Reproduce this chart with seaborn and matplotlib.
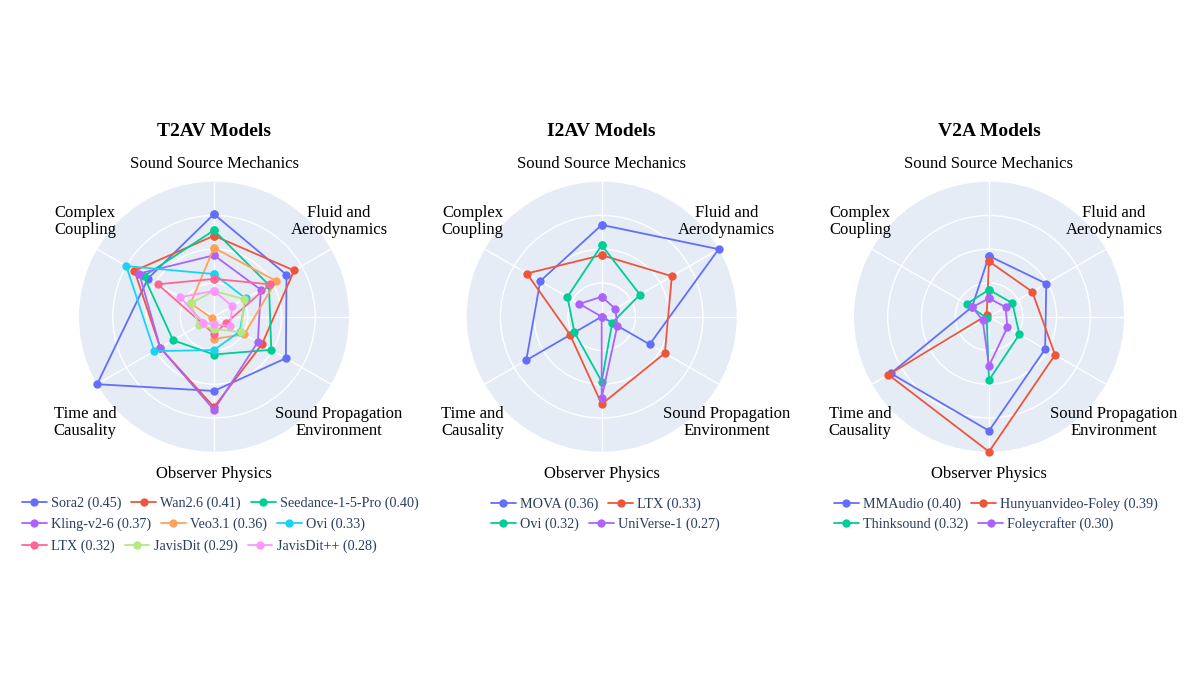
import numpy as np
import pandas as pd
import matplotlib
matplotlib.use('Agg')
import matplotlib.pyplot as plt
from matplotlib.lines import Line2D
import seaborn as sns

# ejes del radar (en sentido horario desde arriba)
dims = ['Sound Source Mechanics', 'Fluid and\nAerodynamics', 'Sound Propagation\nEnvironment',
        'Observer Physics', 'Time and\nCausality', 'Complex\nCoupling']

# valores, escala relativa al radio maximo de cada panel
t2av_models = ['Sora2', 'Wan2.6', 'Seedance-1-5-Pro', 'Kling-v2-6', 'Veo3.1', 'Ovi', 'LTX', 'JavisDit', 'JavisDit++']
t2av_scores = [0.45, 0.41, 0.40, 0.37, 0.36, 0.33, 0.32, 0.29, 0.28]
t2av_values = [
    [0.76, 0.62, 0.615, 0.55, 1.00, 0.565],
    [0.60, 0.685, 0.41, 0.67, 0.46, 0.68],
    [0.64, 0.47, 0.49, 0.28, 0.35, 0.60],
    [0.455, 0.40, 0.375, 0.69, 0.46, 0.64],
    [0.51, 0.53, 0.26, 0.165, 0.02, 0.20],
    [0.316, 0.27, 0.22, 0.247, 0.51, 0.75],
    [0.28, 0.48, 0.10, 0.128, 0.10, 0.48],
    [0.19, 0.26, 0.23, 0.09, 0.128, 0.20],
    [0.19, 0.157, 0.137, 0.057, 0.09, 0.29],
]

i2av_models = ['MOVA', 'LTX', 'Ovi', 'UniVerse-1']
i2av_scores = [0.36, 0.33, 0.32, 0.27]
i2av_values = [
    [0.68, 1.00, 0.41, 0.0, 0.645, 0.526],
    [0.456, 0.60, 0.54, 0.648, 0.27, 0.64],
    [0.53, 0.327, 0.09, 0.48, 0.233, 0.293],
    [0.148, 0.117, 0.134, 0.60, 0.0, 0.19],
]

v2a_models = ['MMAudio', 'Hunyuanvideo-Foley', 'Thinksound', 'Foleycrafter']
v2a_scores = [0.40, 0.39, 0.32, 0.30]
v2a_values = [
    [0.45, 0.49, 0.48, 0.845, 0.84, 0.145],
    [0.41, 0.37, 0.565, 1.00, 0.86, 0.02],
    [0.20, 0.20, 0.26, 0.47, 0.02, 0.19],
    [0.136, 0.142, 0.157, 0.365, 0.054, 0.142],
]

colores = ['#636EFA', '#EF553B', '#00CC96', '#AB63FA', '#FFA15A', '#19D3F3', '#FF6692', '#B6E880', '#FF97FF']

sns.set_theme(style='white')
plt.rcParams['font.family'] = ['Liberation Serif', 'DejaVu Serif']

W, H = 1200, 675
fig = plt.figure(figsize=(12, 6.75), dpi=100)
fig.patch.set_facecolor('white')

angulos = np.deg2rad(np.arange(0, 360, 60))


def radar(cx, cy, titulo, modelos, valores):
    R = 135
    ax = fig.add_axes([(cx - R) / W, 1 - (cy + R) / H, 2 * R / W, 2 * R / H], projection='polar')
    ax.set_theta_offset(np.pi / 2)
    ax.set_theta_direction(-1)
    ax.set_facecolor('#E5ECF6')

    filas = []
    for m, vals in zip(modelos, valores):
        for a, v in zip(list(angulos) + [2 * np.pi], vals + [vals[0]]):
            filas.append({'modelo': m, 'theta': a, 'r': v})
    df = pd.DataFrame(filas)
    sns.lineplot(data=df, x='theta', y='r', hue='modelo', hue_order=modelos,
                 palette=colores[:len(modelos)], sort=False, estimator=None,
                 marker='o', markersize=6, markeredgewidth=0, linewidth=1.3,
                 clip_on=False, legend=False, ax=ax)

    ax.set_ylim(0, 1)
    ax.set_yticks([0.25, 0.5, 0.75])
    ax.set_yticklabels([])
    ax.set_xticks(list(angulos) + [np.pi / 2])
    ax.set_xticklabels([])
    ax.grid(True, color='white', linewidth=1.0)
    ax.spines['polar'].set_visible(False)
    ax.set_xlabel('')
    ax.set_ylabel('')

    # etiquetas de los ejes, desplazamientos en pixeles desde el centro
    offs = [(0, -153), (125, -95), (125, 106), (0, 157), (-129, 106), (-129, -95)]
    for txt, (dx, dy) in zip(dims, offs):
        ax.text(0.5 + dx / (2 * R), 0.5 - dy / (2 * R), txt, transform=ax.transAxes,
                ha='center', va='center', multialignment='center', fontsize=12,
                color='black', linespacing=1.1)
    ax.text(0.5, 0.5 + 185 / (2 * R), titulo, transform=ax.transAxes, ha='center',
            va='center', fontsize=14, fontweight='bold', color='black')
    return ax


radar(214, 316.7, 'T2AV Models', t2av_models, t2av_values)
radar(601.7, 316.7, 'I2AV Models', i2av_models, i2av_values)
radar(989, 316.7, 'V2A Models', v2a_models, v2a_values)


def fila_leyenda(nombres, puntajes, cols, x_px, y_px):
    handles = [Line2D([0], [0], color=c, lw=1.3, marker='o', markersize=6, markeredgewidth=0) for c in cols]
    labels = [f'{n} ({p:.2f})' for n, p in zip(nombres, puntajes)]
    fig.legend(handles, labels, loc='center left', bbox_to_anchor=(x_px / W, 1 - y_px / H),
               ncol=len(handles), frameon=False, borderpad=0, borderaxespad=0,
               handlelength=1.75, handletextpad=0.3, columnspacing=0.7,
               prop={'family': 'Liberation Serif', 'size': 10.2}, labelcolor='#2a3f5f')


for i, y in enumerate([503, 524.5, 546]):
    sl = slice(3 * i, 3 * i + 3)
    fila_leyenda(t2av_models[sl], t2av_scores[sl], colores[sl], 22, y)

for i, y in enumerate([504, 524.5]):
    sl = slice(2 * i, 2 * i + 2)
    fila_leyenda(i2av_models[sl], i2av_scores[sl], colores[sl], 491, y)
    fila_leyenda(v2a_models[sl], v2a_scores[sl], colores[sl], 834, y)

plt.savefig('out.png', dpi=100, facecolor='white')
